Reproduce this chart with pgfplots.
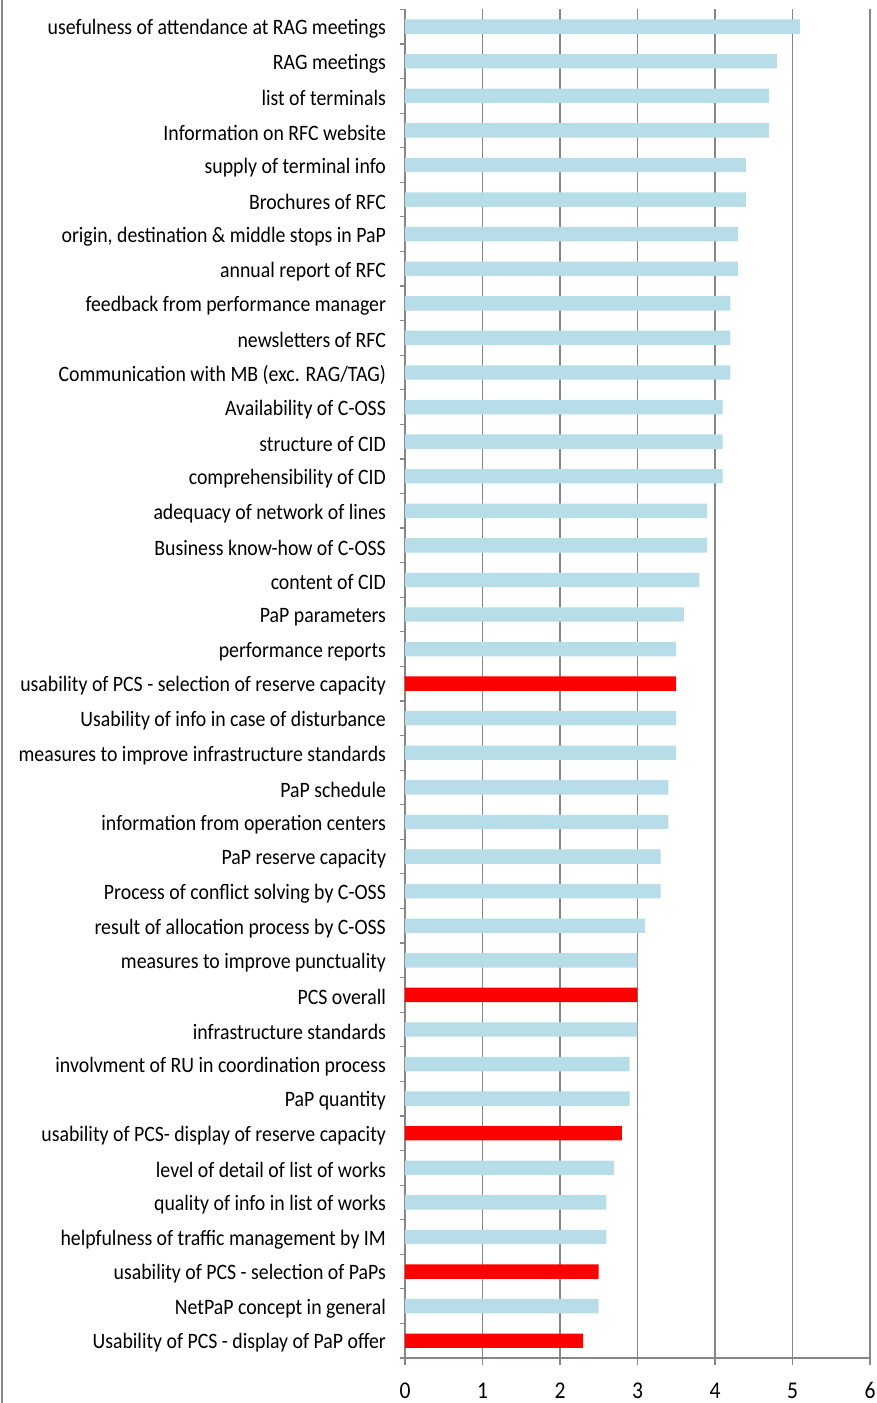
\documentclass[border=0pt]{standalone}
\usepackage{pgfplots}
\pgfplotsset{compat=1.18}
\usepackage{fontspec}
\setmainfont{Carlito}[FakeStretch=0.9]
\definecolor{barblue}{HTML}{B7DDE8}
\definecolor{barred}{HTML}{FF0000}
\definecolor{axgray}{HTML}{868686}
\begin{document}
\begin{tikzpicture}
\begin{axis}[
  name=ax,
  at={(0,0)}, anchor=south west,
  scale only axis,
  width=232.5pt, height=674.3pt,
  xmin=0, xmax=6, ymin=-0.5, ymax=38.5,
  xbar, bar width=7.2pt, /pgf/bar shift=0pt,
  axis x line*=bottom, axis y line*=left,
  axis line style={axgray, line width=0.6pt},
  xtick={0,1,2,3,4,5,6},
  xmajorgrids, major grid style={axgray, line width=0.6pt},
  tick align=outside,
  major tick length=3.5pt,
  x tick style={axgray, line width=0.6pt},
  y tick style={draw=none},
  ytick={0,...,38},
  extra y ticks={-0.5,0.5,...,38.5},
  extra y tick labels={},
  extra y tick style={major tick length=2.5pt, y tick style={draw=axgray, line width=0.6pt}, grid=none},
  yticklabels={
    {Usability of PCS - display of PaP offer},
    {NetPaP concept in general},
    {usability of PCS - selection of PaPs},
    {helpfulness of traffic management by IM},
    {quality of info in list of works},
    {level of detail of list of works},
    {usability of PCS- display of reserve capacity},
    {PaP quantity},
    {involvment of RU in coordination process},
    {infrastructure standards},
    {PCS overall},
    {measures to improve punctuality},
    {result of allocation process by C-OSS},
    {Process of conflict solving by C-OSS},
    {PaP reserve capacity},
    {information from operation centers},
    {PaP schedule},
    {measures to improve infrastructure standards},
    {Usability of info in case of disturbance},
    {usability of PCS - selection of reserve capacity},
    {performance reports},
    {PaP parameters},
    {content of CID},
    {Business know-how of C-OSS},
    {adequacy of network of lines},
    {comprehensibility of CID},
    {structure of CID},
    {Availability of C-OSS},
    {Communication with MB (exc. RAG/TAG)},
    {newsletters of RFC},
    {feedback from performance manager},
    {annual report of RFC},
    {origin, destination \& middle stops in PaP},
    {Brochures of RFC},
    {supply of terminal info},
    {Information on RFC website},
    {list of terminals},
    {RAG meetings},
    {usefulness of attendance at RAG meetings}
  },
  ticklabel style={text=black},
  yticklabel style={font=\fontsize{11}{13}\selectfont, xshift=-2.5pt, yshift=-1.2pt},
  /pgf/number format/assume math mode=true,
  xticklabel style={font=\fontsize{12}{14}\selectfont, yshift=-5.3pt},
]
\addplot[fill=barblue, draw=none] coordinates {
  (2.5,1) (2.6,3) (2.6,4) (2.7,5) (2.9,7) (2.9,8) (3.0,9) (3.0,11)
  (3.1,12) (3.3,13) (3.3,14) (3.4,15) (3.4,16) (3.5,17) (3.5,18) (3.5,20)
  (3.6,21) (3.8,22) (3.9,23) (3.9,24) (4.1,25) (4.1,26) (4.1,27) (4.2,28)
  (4.2,29) (4.2,30) (4.3,31) (4.3,32) (4.4,33) (4.4,34) (4.7,35) (4.7,36)
  (4.8,37) (5.1,38)
};
\addplot[fill=barred, draw=none] coordinates {
  (2.3,0) (2.5,2) (2.8,6) (3.0,10) (3.5,19)
};
\end{axis}
\draw[axgray, line width=0.75pt] (-201.5pt,-22.5pt) -- (-201.5pt,679pt);
\pgfresetboundingbox
\path (-202.5pt,-22.5pt) rectangle (236pt,679pt);
\end{tikzpicture}
\end{document}
